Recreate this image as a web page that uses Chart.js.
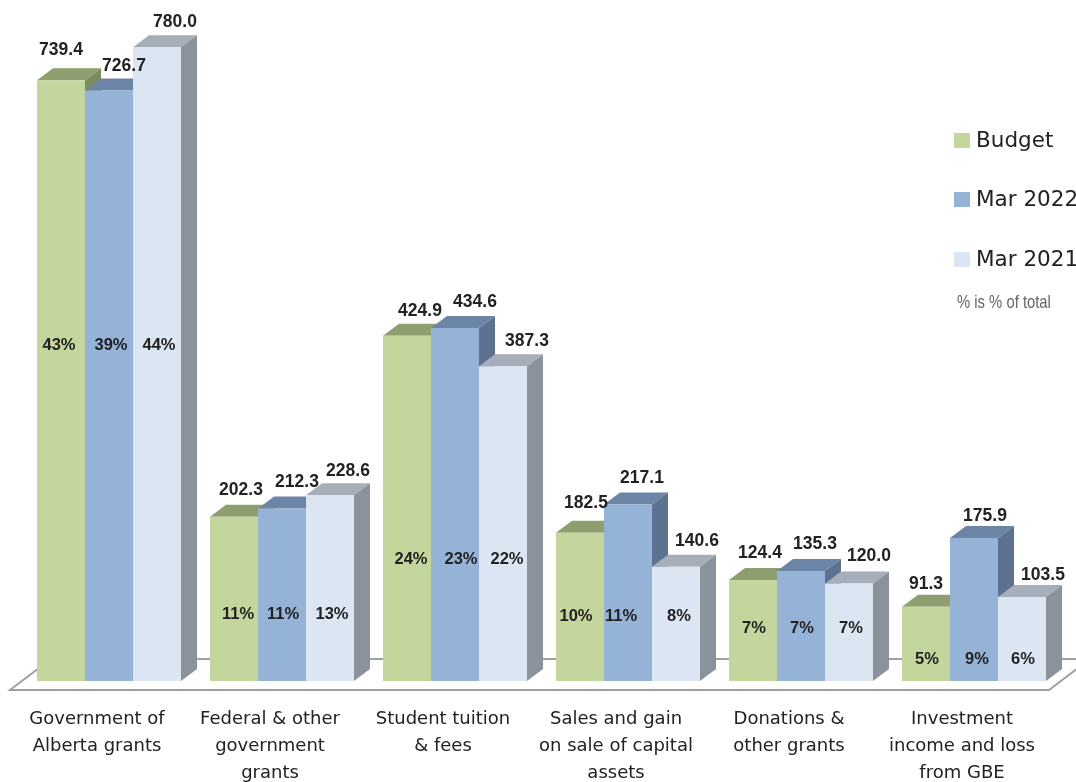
<!DOCTYPE html>
<html>
<head>
<meta charset="utf-8">
<title>Revenue by source</title>
<script src="https://cdn.jsdelivr.net/npm/chart.js@4"></script>
<style>
	html, body { margin: 0; padding: 0; background: #fff; overflow: hidden; }
	canvas { display: block; }
</style>
</head>
<body>
<canvas id="chart" width="1076" height="782"></canvas>
<script>
const categories = [
	[ 'Government of', 'Alberta grants' ],
	[ 'Federal & other', 'government', 'grants' ],
	[ 'Student tuition', '& fees' ],
	[ 'Sales and gain', 'on sale of capital', 'assets' ],
	[ 'Donations &', 'other grants' ],
	[ 'Investment', 'income and loss', 'from GBE' ],
];
const budget = [ 739.4, 202.3, 424.9, 182.5, 124.4, 91.3 ];
const mar2022 = [ 726.7, 212.3, 434.6, 217.1, 135.3, 175.9 ];
const mar2021 = [ 780.0, 228.6, 387.3, 140.6, 120.0, 103.5 ];

const budgetPct = [ '43%', '11%', '24%', '10%', '7%', '5%' ];
const mar2022Pct = [ '39%', '11%', '23%', '11%', '7%', '9%' ];
const mar2021Pct = [ '44%', '13%', '22%', '8%', '7%', '6%' ];

// value on the y axis where each group's % labels sit
const pctLevel = [ 413, 82, 149, 80, 65, 27 ];

// hand placed labels in the original, so nudge them off the bar top
const valueNudge = [
	[ [ 0, -5 ], [ 15, 1 ], [ 18, 0 ] ],
	[ [ 7, -1 ], [ 15, -1 ], [ 18, 1 ] ],
	[ [ 13, 0 ], [ 20, -1 ], [ 24, 0 ] ],
	[ [ 6, -5 ], [ 14, -1 ], [ 21, -1 ] ],
	[ [ 7, -2 ], [ 14, -2 ], [ 20, -2 ] ],
	[ [ 0, 2 ], [ 11, 3 ], [ 21, 3 ] ],
];
const pctNudge = [
	[ -2, 2, 2 ], [ 4, 1, 2 ], [ 4, 6, 4 ], [ -4, -7, 3 ], [ 1, 1, 2 ], [ 1, 3, 1 ],
];

const fronts = [ '#c3d69b', '#95b3d7', '#dce6f2' ];
const tops = [ '#8e9e6e', '#6c85a7', '#a6aeb9' ];
const sides = [ '#7d8b60', '#5d7291', '#8a929c' ];
const pctLabels = [ budgetPct, mar2022Pct, mar2021Pct ];

const DEPTH_X = 16;
const DEPTH_Y = 12;

function poly( ctx, pts, fill ) {
	ctx.beginPath();
	pts.forEach( ( p, i ) => ( i ? ctx.lineTo( p[ 0 ], p[ 1 ] ) : ctx.moveTo( p[ 0 ], p[ 1 ] ) ) );
	ctx.closePath();
	ctx.fillStyle = fill;
	ctx.fill();
}

// Floor, plus the top and side faces. Chart.js paints the front faces after this.
const faces = {
	id: 'faces',
	beforeDatasetsDraw( chart ) {
		const { ctx, chartArea } = chart;
		const base = chartArea.bottom;

		ctx.save();
		ctx.strokeStyle = '#a0a0a0';
		ctx.lineWidth = 2;
		ctx.beginPath();
		ctx.moveTo( 1076, base - 22 );
		ctx.lineTo( 51, base - 22 );
		ctx.lineTo( 10, base + 9 );
		ctx.lineTo( 1049, base + 9 );
		ctx.lineTo( 1090, base - 22 );
		ctx.stroke();

		chart.data.datasets.forEach( ( ds, d ) => {
			chart.getDatasetMeta( d ).data.forEach( ( bar ) => {
				const l = bar.x - bar.width / 2;
				const r = bar.x + bar.width / 2;
				poly( ctx, [ [ l, bar.y ], [ r, bar.y ], [ r + DEPTH_X, bar.y - DEPTH_Y ], [ l + DEPTH_X, bar.y - DEPTH_Y ] ], tops[ d ] );
				poly( ctx, [ [ r, bar.y ], [ r + DEPTH_X, bar.y - DEPTH_Y ], [ r + DEPTH_X, base - DEPTH_Y ], [ r, base ] ], sides[ d ] );
			} );
		} );
		ctx.restore();
	},
};

const labels = {
	id: 'labels',
	afterDatasetsDraw( chart ) {
		const { ctx } = chart;
		const y = chart.scales.y;

		ctx.save();
		ctx.textAlign = 'center';
		ctx.textBaseline = 'middle';
		ctx.fillStyle = '#222';
		chart.data.datasets.forEach( ( ds, d ) => {
			chart.getDatasetMeta( d ).data.forEach( ( bar, i ) => {
				const nudge = valueNudge[ i ][ d ];
				ctx.font = 'bold 17.5px "Liberation Sans"';
				ctx.fillText( ds.data[ i ].toFixed( 1 ), bar.x + nudge[ 0 ], bar.y - DEPTH_Y - 13 + nudge[ 1 ] );
				ctx.font = 'bold 16.5px "Liberation Sans"';
				ctx.fillText( pctLabels[ d ][ i ], bar.x + pctNudge[ i ][ d ], y.getPixelForValue( pctLevel[ i ] ) );
			} );
		} );
		ctx.restore();
	},
};

// Legend sits inside the plot and runs off the right edge, as in the original.
const sideLegend = {
	id: 'sideLegend',
	afterDraw( chart ) {
		const { ctx } = chart;
		const rows = [ 140, 199, 259 ];

		ctx.save();
		ctx.textBaseline = 'middle';
		chart.data.datasets.forEach( ( ds, d ) => {
			ctx.fillStyle = fronts[ d ];
			ctx.fillRect( 954, rows[ d ] - 7, 16, 15 );
			ctx.fillStyle = '#222';
			ctx.font = '21.5px "DejaVu Sans"';
			ctx.fillText( ds.label, 976, rows[ d ] + 1 );
		} );
		// tall squeezed note
		ctx.fillStyle = '#666';
		ctx.font = '19px "Liberation Sans"';
		ctx.translate( 957, 303 );
		ctx.scale( 0.78, 1 );
		ctx.fillText( '% is % of total', 0, 0 );
		ctx.restore();
	},
};

new Chart( document.getElementById( 'chart' ), {
	type: 'bar',
	data: {
		labels: categories,
		datasets: [
			{ label: 'Budget', data: budget, backgroundColor: fronts[ 0 ] },
			{ label: 'Mar 2022', data: mar2022, backgroundColor: fronts[ 1 ] },
			{ label: 'Mar 2021', data: mar2021, backgroundColor: fronts[ 2 ] },
		],
	},
	options: {
		responsive: false,
		animation: false,
		devicePixelRatio: 1,
		layout: { padding: { left: 22.5, right: 15.5, top: 31, bottom: 0 } },
		datasets: { bar: { categoryPercentage: 144 / 173, barPercentage: 1, borderWidth: 0 } },
		plugins: { legend: { display: false }, tooltip: { enabled: false } },
		scales: {
			x: {
				grid: { display: false, drawTicks: false },
				border: { display: false },
				afterFit: ( scale ) => { scale.height = 101; },
				ticks: {
					autoSkip: false,
					maxRotation: 0,
					minRotation: 0,
					padding: 25,
					labelOffset: -12,
					color: '#222',
					font: { family: '"DejaVu Sans"', size: 18, lineHeight: '27px' },
				},
			},
			y: { display: false, min: 0, max: 800 },
		},
	},
	plugins: [ faces, labels, sideLegend ],
} );
</script>
</body>
</html>
